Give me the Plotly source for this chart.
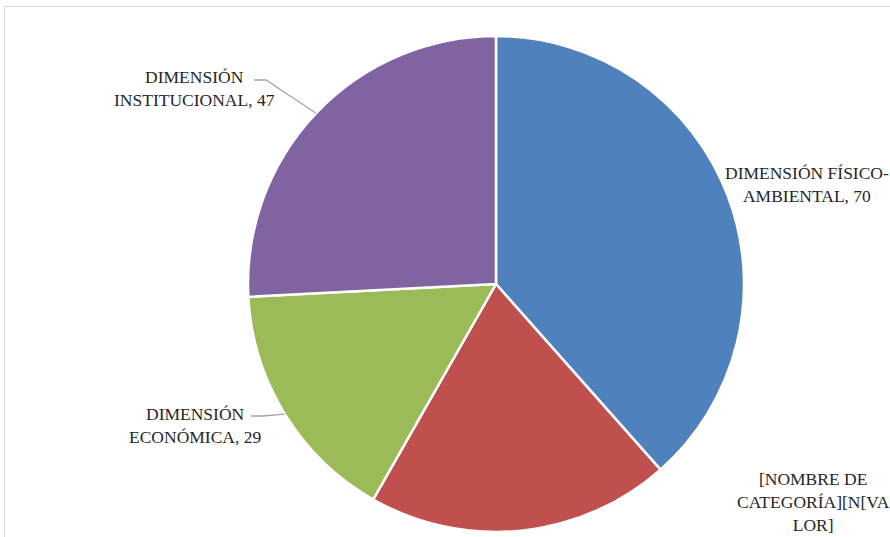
import math
import plotly.graph_objects as go

categories = ["DIMENSIÓN FÍSICO-AMBIENTAL", "[NOMBRE DE CATEGORÍA][N[VALOR]", "DIMENSIÓN ECONÓMICA", "DIMENSIÓN INSTITUCIONAL"]
values = [70, 36, 29, 47]
label_texts = ["DIMENSIÓN FÍSICO-<br>AMBIENTAL, 70", "[NOMBRE DE<br>CATEGORÍA][N[VA<br>LOR]", "DIMENSIÓN<br>ECONÓMICA, 29", "DIMENSIÓN<br>INSTITUCIONAL, 47"]
colors = ["#4F81BD", "#C0504D", "#9BBB59", "#8064A2"]

W, H = 890, 537
cx, cy, R = 496, 284, 248

fig = go.Figure(go.Pie(
    labels=categories, values=values, sort=False, direction="clockwise", rotation=0,
    marker=dict(colors=colors, line=dict(color="white", width=2.5)),
    textinfo="none", hoverinfo="label+value", showlegend=False,
    domain=dict(x=[(cx - R) / W, (cx + R) / W], y=[1 - (cy + R) / H, 1 - (cy - R) / H]),
))

# label centres (pixels) and leader-line starts
label_pos = [(807, 184), (813, 502), (195, 425), (194, 88)]
leader_start = [None, None, (251, 416), (254, 80)]
total = sum(values)
cum = 0
shapes = []
annotations = []
for i, v in enumerate(values):
    mid = (cum + v / 2) / total * 2 * math.pi
    cum += v
    ex = cx + R * math.sin(mid)
    ey = cy - R * math.cos(mid)
    lx, ly = label_pos[i]
    annotations.append(dict(x=lx / W, y=1 - ly / H, xref="paper", yref="paper", text=label_texts[i],
                            showarrow=False, align="center", xanchor="center", yanchor="middle",
                            font=dict(family="Liberation Serif", size=17.5, color="#262626")))
    if leader_start[i]:
        sx, sy = leader_start[i]
        path = f"M {sx/W},{1-sy/H} L {(sx+12)/W},{1-sy/H} L {ex/W},{1-ey/H}"
        shapes.append(dict(type="path", xref="paper", yref="paper", path=path,
                           line=dict(color="#A6A6A6", width=1.3)))

shapes.append(dict(type="rect", xref="paper", yref="paper", x0=4.5 / W, x1=1.05, y0=-0.05, y1=1 - 6.5 / H,
                   line=dict(color="#D9D9D9", width=1), fillcolor="rgba(0,0,0,0)", layer="below"))

fig.update_layout(width=W, height=H, margin=dict(l=0, r=0, t=0, b=0),
                  paper_bgcolor="white", plot_bgcolor="white",
                  shapes=shapes, annotations=annotations)
fig.write_html("out.html", config={"displayModeBar": False},
               post_script="document.body.style.margin='0';document.body.style.overflow='hidden';")
